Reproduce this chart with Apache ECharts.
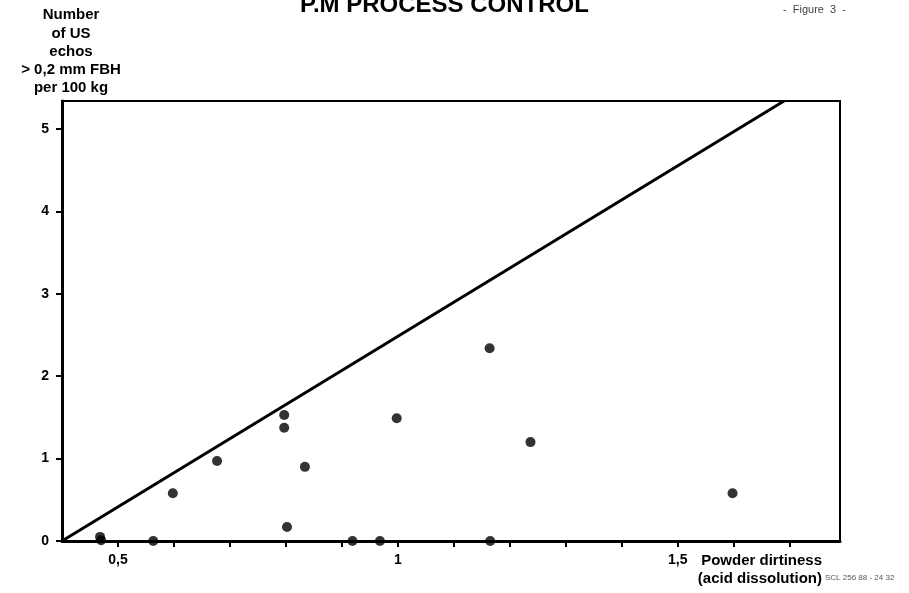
<!DOCTYPE html>
<html>
<head>
<meta charset="utf-8">
<title>P.M Process Control</title>
<script src="https://cdn.jsdelivr.net/npm/echarts@6/dist/echarts.min.js"></script>
<style>
  html, body { margin: 0; padding: 0; background: #fff; }
  #chart { width: 909px; height: 593px; }
</style>
</head>
<body>
<div id="chart"></div>
<script>
// measured points: powder dirtiness (x) vs US echos per 100 kg (y)
var dirtiness = [0.468, 0.470, 0.563, 0.598, 0.677, 0.797, 0.797, 0.802, 0.834, 0.919, 0.968, 0.998, 1.164, 1.165, 1.237, 1.598]
var echos     = [0.05,  0.01,  0.0,   0.58,  0.97,  1.53,  1.375, 0.17,  0.90,  0.0,   0.0,   1.49,  2.34,  0.0,   1.20,  0.58]

// control limit line (start / end)
var limitX = [0.4, 1.69]
var limitY = [0, 5.34]

// axis ticks
var xLabelValues = [0.5, 1, 1.5]
var xLabelTexts = ['0,5', '1', '1,5']
var yLabelValues = [0, 1, 2, 3, 4, 5]

var points = dirtiness.map(function(x, i) { return [x, echos[i]] })
var limitLine = limitX.map(function(x, i) { return [x, limitY[i]] })

var chart = echarts.init(document.getElementById('chart'))
var font = '"Liberation Sans", Arial, sans-serif'

chart.setOption({
  animation: false,
  backgroundColor: '#fff',
  grid: {
    left: 62,
    top: 101,
    right: 69,
    bottom: 52,
    show: true,
    borderColor: '#000',
    borderWidth: 2
  },
  xAxis: {
    type: 'value',
    min: 0.4,
    max: 1.79,
    interval: 0.1,
    splitLine: { show: false },
    axisLine: { lineStyle: { color: '#000', width: 3 } },
    axisTick: { show: true, length: 6, lineStyle: { color: '#000', width: 2 } },
    axisLabel: {
      color: '#000',
      fontFamily: font,
      fontWeight: 'bold',
      fontSize: 14,
      margin: 12,
      showMinLabel: false,
      showMaxLabel: false,
      formatter: function(v) {
        for (var i = 0; i < xLabelValues.length; i++) {
          if (Math.abs(v - xLabelValues[i]) < 1e-6) return xLabelTexts[i]
        }
        return ''
      }
    }
  },
  yAxis: {
    type: 'value',
    min: 0,
    max: 5.34,
    interval: 1,
    splitLine: { show: false },
    axisLine: { lineStyle: { color: '#000', width: 3 } },
    axisTick: { show: true, length: 6, lineStyle: { color: '#000', width: 2 } },
    axisLabel: {
      color: '#000',
      fontFamily: font,
      fontWeight: 'bold',
      fontSize: 14,
      margin: 13,
      showMaxLabel: false,
      formatter: function(v) {
        return yLabelValues.indexOf(v) >= 0 ? String(v) : ''
      }
    }
  },
  series: [
    {
      type: 'line',
      data: limitLine,
      symbol: 'none',
      lineStyle: { color: '#000', width: 3 },
      z: 3
    },
    {
      type: 'scatter',
      data: points,
      symbol: 'circle',
      symbolSize: 10,
      itemStyle: { color: '#000' },
      z: 4
    }
  ],
  graphic: [
    {
      type: 'text', left: 300, top: -7,
      style: { text: 'P.M PROCESS CONTROL', font: '900 24px ' + font, fill: '#000' }
    },
    {
      type: 'text', left: 783, top: 4,
      style: { text: '-  Figure  3  -', font: '11px ' + font, fill: '#444' }
    },
    {
      type: 'text', x: 71, y: 6,
      style: {
        text: 'Number\nof US\nechos\n> 0,2 mm FBH\nper 100 kg',
        font: 'bold 15px ' + font,
        fill: '#000',
        align: 'center',
        verticalAlign: 'top',
        lineHeight: 18.3
      }
    },
    {
      type: 'text', x: 822, y: 552,
      style: {
        text: 'Powder dirtiness\n(acid dissolution)',
        font: 'bold 15px ' + font,
        fill: '#000',
        align: 'right',
        verticalAlign: 'top',
        lineHeight: 18
      }
    },
    {
      type: 'text', x: 825, y: 574,
      style: { text: 'SCL 256 88 - 24 32', font: '8px ' + font, fill: '#555' }
    }
  ]
})
</script>
</body>
</html>
